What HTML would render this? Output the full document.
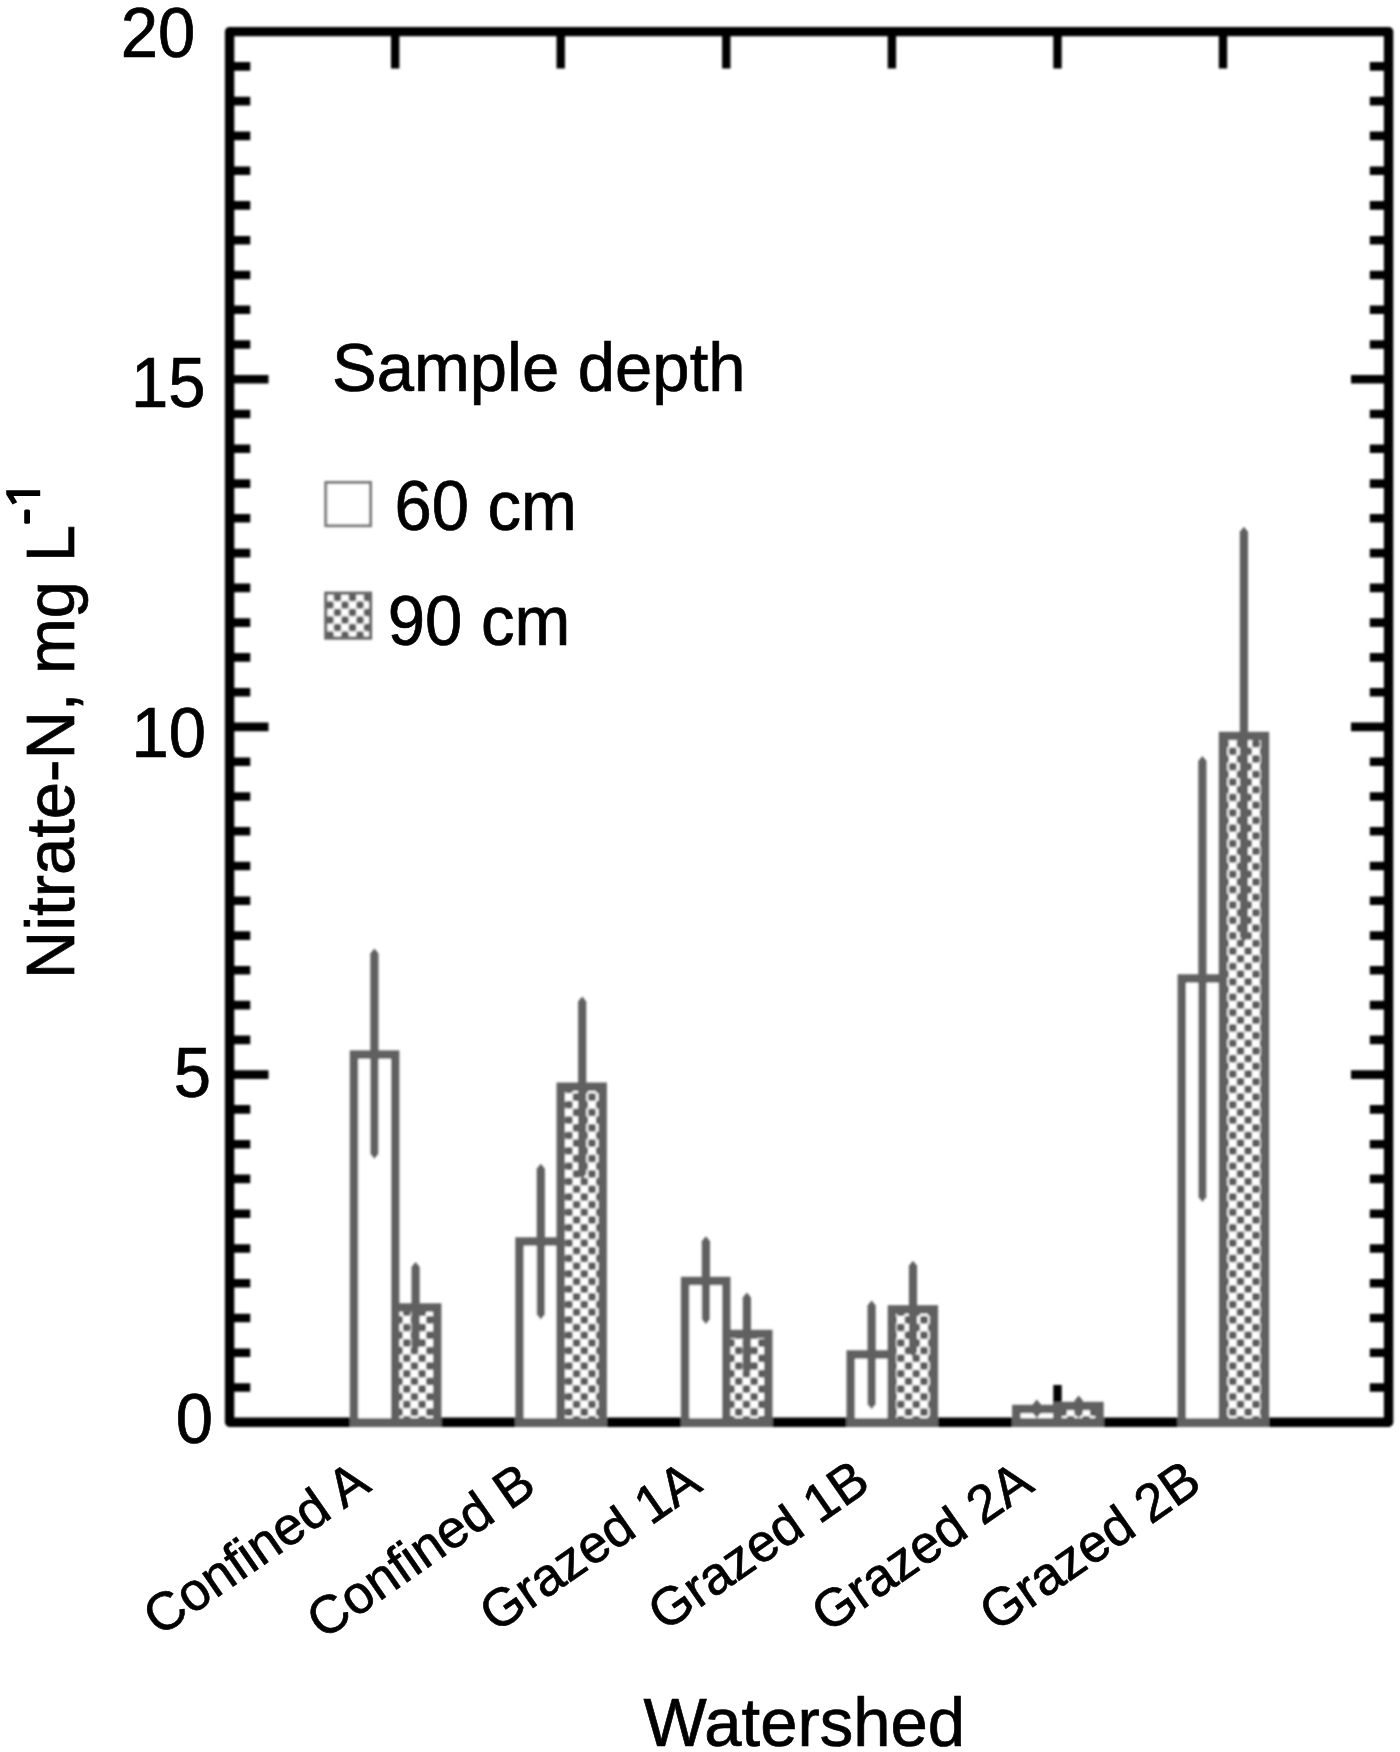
<!DOCTYPE html>
<html><head><meta charset="utf-8"><style>
html,body{margin:0;padding:0;background:#fff;}
body{width:1400px;height:1752px;overflow:hidden;}
svg{display:block;}
text{font-family:"Liberation Sans",sans-serif;fill:#000;stroke:#000;stroke-width:0.7px;}
</style></head><body>
<svg width="1400" height="1752" viewBox="0 0 1400 1752">
<defs>
<pattern id="chk" patternUnits="userSpaceOnUse" x="1.42" y="9.93" width="15.44" height="15.366">
<rect width="15.44" height="15.366" fill="#fff"/>
<rect x="7.72" y="0" width="7.72" height="7.683" rx="2.2" fill="#5c5c5c"/>
<rect x="0" y="7.683" width="7.72" height="7.683" rx="2.2" fill="#5c5c5c"/>
</pattern>
<pattern id="chk2" patternUnits="userSpaceOnUse" x="326.25" y="593.75" width="15" height="15">
<rect width="15" height="15" fill="#fff"/>
<rect x="7.5" y="0" width="7.5" height="7.5" rx="2.2" fill="#5c5c5c"/>
<rect x="0" y="7.5" width="7.5" height="7.5" rx="2.2" fill="#5c5c5c"/>
</pattern>
</defs>
<filter id="bl"><feGaussianBlur stdDeviation="0.9"/></filter>
<rect width="1400" height="1752" fill="#fff"/>
<g filter="url(#bl)">

<rect x="229.6" y="31.6" width="1159.0" height="1390.7" fill="none" stroke="#000" stroke-width="9.4" stroke-linejoin="round"/>
<path d="M233.6 1387.5H250.3M1384.6 1387.5H1369.8 M233.6 1352.8H250.3M1384.6 1352.8H1369.8 M233.6 1318.0H250.3M1384.6 1318.0H1369.8 M233.6 1283.2H250.3M1384.6 1283.2H1369.8 M233.6 1248.5H250.3M1384.6 1248.5H1369.8 M233.6 1213.7H250.3M1384.6 1213.7H1369.8 M233.6 1178.9H250.3M1384.6 1178.9H1369.8 M233.6 1144.2H250.3M1384.6 1144.2H1369.8 M233.6 1109.4H250.3M1384.6 1109.4H1369.8 M233.6 1074.6H268.5M1384.6 1074.6H1351.0 M233.6 1039.9H250.3M1384.6 1039.9H1369.8 M233.6 1005.1H250.3M1384.6 1005.1H1369.8 M233.6 970.3H250.3M1384.6 970.3H1369.8 M233.6 935.6H250.3M1384.6 935.6H1369.8 M233.6 900.8H250.3M1384.6 900.8H1369.8 M233.6 866.0H250.3M1384.6 866.0H1369.8 M233.6 831.3H250.3M1384.6 831.3H1369.8 M233.6 796.5H250.3M1384.6 796.5H1369.8 M233.6 761.7H250.3M1384.6 761.7H1369.8 M233.6 726.9H268.5M1384.6 726.9H1351.0 M233.6 692.2H250.3M1384.6 692.2H1369.8 M233.6 657.4H250.3M1384.6 657.4H1369.8 M233.6 622.6H250.3M1384.6 622.6H1369.8 M233.6 587.9H250.3M1384.6 587.9H1369.8 M233.6 553.1H250.3M1384.6 553.1H1369.8 M233.6 518.3H250.3M1384.6 518.3H1369.8 M233.6 483.6H250.3M1384.6 483.6H1369.8 M233.6 448.8H250.3M1384.6 448.8H1369.8 M233.6 414.0H250.3M1384.6 414.0H1369.8 M233.6 379.3H268.5M1384.6 379.3H1351.0 M233.6 344.5H250.3M1384.6 344.5H1369.8 M233.6 309.7H250.3M1384.6 309.7H1369.8 M233.6 275.0H250.3M1384.6 275.0H1369.8 M233.6 240.2H250.3M1384.6 240.2H1369.8 M233.6 205.4H250.3M1384.6 205.4H1369.8 M233.6 170.7H250.3M1384.6 170.7H1369.8 M233.6 135.9H250.3M1384.6 135.9H1369.8 M233.6 101.1H250.3M1384.6 101.1H1369.8 M233.6 66.4H250.3M1384.6 66.4H1369.8" stroke="#000" stroke-width="8.6" stroke-linecap="butt" fill="none"/>
<path d="M395.2 35.6V68.6M395.2 1418.3V1385 M560.7 35.6V68.6M560.7 1418.3V1385 M726.3 35.6V68.6M726.3 1418.3V1385 M891.9 35.6V68.6M891.9 1418.3V1385 M1057.5 35.6V68.6M1057.5 1418.3V1385 M1223.0 35.6V68.6M1223.0 1418.3V1385" stroke="#000" stroke-width="8.4" stroke-linecap="butt" fill="none"/>
<rect x="349.8" y="1416.9" width="91.6" height="10.0" fill="#616161"/>
<rect x="354.0" y="1054.6" width="41.2" height="367.7" fill="#fff" stroke="#616161" stroke-width="8.4"/>
<rect x="395.2" y="1307.5" width="42.0" height="114.8" fill="url(#chk)" stroke="#616161" stroke-width="8.4"/>
<path d="M374.4 948.6L378.5 953.6V1154.0L374.4 1159.0L370.3 1154.0V953.6Z" fill="#616161"/>
<path d="M415.6 1262.0L419.7 1267.0V1346.0L415.6 1351.0L411.5 1346.0V1267.0Z" fill="#616161"/>
<rect x="515.3" y="1416.9" width="91.6" height="10.0" fill="#616161"/>
<rect x="519.5" y="1241.5" width="41.2" height="180.8" fill="#fff" stroke="#616161" stroke-width="8.4"/>
<rect x="560.7" y="1086.7" width="42.0" height="335.6" fill="url(#chk)" stroke="#616161" stroke-width="8.4"/>
<path d="M540.8 1163.8L544.9 1168.8V1314.5L540.8 1319.5L536.7 1314.5V1168.8Z" fill="#616161"/>
<path d="M582.2 996.6L586.3 1001.6V1174.0L582.2 1179.0L578.1 1174.0V1001.6Z" fill="#616161"/>
<rect x="680.9" y="1416.9" width="91.6" height="10.0" fill="#616161"/>
<rect x="685.1" y="1281.0" width="41.2" height="141.3" fill="#fff" stroke="#616161" stroke-width="8.4"/>
<rect x="726.3" y="1334.0" width="42.0" height="88.3" fill="url(#chk)" stroke="#616161" stroke-width="8.4"/>
<path d="M705.9 1236.2L710.0 1241.2V1319.2L705.9 1324.2L701.8 1319.2V1241.2Z" fill="#616161"/>
<path d="M746.9 1292.5L751.0 1297.5V1369.6L746.9 1374.6L742.8 1369.6V1297.5Z" fill="#616161"/>
<rect x="846.5" y="1416.9" width="91.6" height="10.0" fill="#616161"/>
<rect x="850.7" y="1354.5" width="41.2" height="67.8" fill="#fff" stroke="#616161" stroke-width="8.4"/>
<rect x="891.9" y="1309.4" width="42.0" height="112.9" fill="url(#chk)" stroke="#616161" stroke-width="8.4"/>
<path d="M871.6 1300.4L875.7 1305.4V1404.3L871.6 1409.3L867.5 1404.3V1305.4Z" fill="#616161"/>
<path d="M913.0 1260.8L917.1 1265.8V1351.9L913.0 1356.9L908.9 1351.9V1265.8Z" fill="#616161"/>
<rect x="1012.1" y="1416.9" width="91.6" height="10.0" fill="#616161"/>
<rect x="1016.3" y="1409.0" width="41.2" height="13.3" fill="#fff" stroke="#616161" stroke-width="8.4"/>
<rect x="1057.5" y="1406.0" width="42.0" height="16.3" fill="url(#chk)" stroke="#616161" stroke-width="8.4"/>
<path d="M1036.8 1399.4L1040.9 1404.4V1413.0L1036.8 1418.0L1032.7 1413.0V1404.4Z" fill="#616161"/>
<path d="M1078.7 1395.6L1082.8 1400.6V1413.0L1078.7 1418.0L1074.6 1413.0V1400.6Z" fill="#616161"/>
<rect x="1177.6" y="1416.9" width="91.6" height="10.0" fill="#616161"/>
<rect x="1181.8" y="978.5" width="41.2" height="443.8" fill="#fff" stroke="#616161" stroke-width="8.4"/>
<rect x="1223.0" y="736.0" width="42.0" height="686.3" fill="url(#chk)" stroke="#616161" stroke-width="8.4"/>
<path d="M1202.4 756.0L1206.5 761.0V1197.2L1202.4 1202.2L1198.3 1197.2V761.0Z" fill="#616161"/>
<path d="M1243.9 526.8L1248.0 531.8V936.9L1243.9 941.9L1239.8 936.9V531.8Z" fill="#616161"/>
</g>
<g transform="translate(120.7,56.6) scale(1,1.04)"><text x="0" y="0" font-size="67" text-anchor="start">20</text></g>
<g transform="translate(130.9,407.4) scale(1,1.04)"><text x="0" y="0" font-size="67" text-anchor="start">15</text></g>
<g transform="translate(131.5,756.8) scale(1,1.04)"><text x="0" y="0" font-size="67" text-anchor="start">10</text></g>
<g transform="translate(173.8,1096.8) scale(1,1.04)"><text x="0" y="0" font-size="67" text-anchor="start">5</text></g>
<g transform="translate(175.8,1443.2) scale(1,1.04)"><text x="0" y="0" font-size="67" text-anchor="start">0</text></g>
<g transform="translate(332.1,390.7) scale(1,1.01)"><text x="0" y="0" font-size="67" text-anchor="start">Sample depth</text></g>
<g filter="url(#bl)">
<rect x="325.8" y="482.5" width="44.7" height="43.2" fill="#fff" stroke="#7a7a7a" stroke-width="3"/>
<rect x="325.8" y="593.2" width="44.7" height="44.9" fill="url(#chk2)" stroke="#666" stroke-width="3.2"/>
</g>
<g transform="translate(394.4,529.5) scale(1,1.04)"><text x="0" y="0" font-size="67" text-anchor="start">60 cm</text></g>
<g transform="translate(387.8,644.5) scale(1,1.04)"><text x="0" y="0" font-size="67" text-anchor="start">90 cm</text></g>
<g transform="translate(643.6,1745.6) scale(1,1.01)"><text x="0" y="0" font-size="67" text-anchor="start">Watershed</text></g>
<g transform="translate(74.1,979.2) rotate(-90) scale(1,1.03)"><text x="0" y="0" font-size="67">Nitrate-N, mg L</text></g>
<rect x="24.2" y="509.6" width="5.8" height="14.2" rx="1.5" fill="#000"/>
<path d="M6.2 490.3H40.2V496H13.5L17.2 502.2L12.6 504.6L6.2 494.5Z" fill="#000"/>
<g transform="translate(372.7,1489.4) rotate(-34.8) scale(1,1.01)"><text x="0" y="0" font-size="53" text-anchor="end">Confined A</text></g>
<g transform="translate(538.6,1490.8) rotate(-34.8) scale(1,1.01)"><text x="0" y="0" font-size="53" text-anchor="end">Confined B</text></g>
<g transform="translate(704.1,1489.0) rotate(-34.8) scale(1,1.01)"><text x="0" y="0" font-size="53" text-anchor="end">Grazed 1A</text></g>
<g transform="translate(872.6,1487.8) rotate(-34.8) scale(1,1.01)"><text x="0" y="0" font-size="53" text-anchor="end">Grazed 1B</text></g>
<g transform="translate(1036.0,1489.3) rotate(-34.8) scale(1,1.01)"><text x="0" y="0" font-size="53" text-anchor="end">Grazed 2A</text></g>
<g transform="translate(1204.0,1488.1) rotate(-34.8) scale(1,1.01)"><text x="0" y="0" font-size="53" text-anchor="end">Grazed 2B</text></g>
</svg></body></html>
